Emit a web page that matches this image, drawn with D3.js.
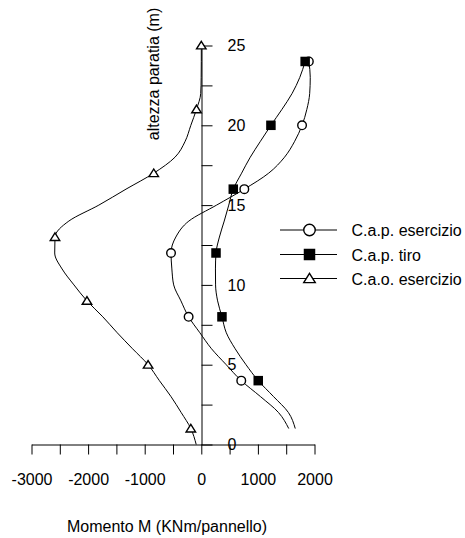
<!DOCTYPE html>
<html>
<head>
<meta charset="utf-8">
<script src="https://cdn.jsdelivr.net/npm/d3@7"></script>
<style>
  html, body { margin: 0; padding: 0; background: #fff; }
  svg { display: block; font-family: "Liberation Sans", Arial, Helvetica, sans-serif; }
</style>
</head>
<body>
<svg id="chart" width="465" height="538"></svg>
<script>
// Heights along the wall (m) and bending moments (KNm/pannello)
const heightsCap = [24, 23, 22, 21, 20, 19, 18, 17, 16, 15, 14, 13, 12, 11, 10, 9, 8, 7, 6, 5, 4, 3, 2, 1];
const capEsercizio = [1900, 1925, 1915, 1865, 1780, 1650, 1470, 1190, 760, 270, -220, -450, -535, -520, -488, -360, -224, -25, 180, 440, 706, 1046, 1365, 1545];
const capTiro = [1835, 1740, 1605, 1425, 1230, 1045, 865, 712, 565, 485, 405, 320, 260, 250, 252, 288, 365, 442, 598, 790, 1006, 1277, 1540, 1660];

const heightsCao = [25, 24, 23, 22, 21, 20, 19, 18, 17, 16, 15, 14, 13, 12, 11, 10, 9, 8, 7, 6, 5, 4, 3, 2, 1, 0];
const caoEsercizio = [0, 0, -2, -10, -85, -185, -285, -465, -840, -1330, -1810, -2340, -2585, -2590, -2460, -2250, -2020, -1740, -1485, -1215, -940, -740, -535, -355, -185, -90];

// Heights where a marker is placed on each curve
const markerHeightsCap = [24, 20, 16, 12, 8, 4];
const markerHeightsCao = [25, 21, 17, 13, 9, 5, 1];

const seriesNames = ["C.a.p. esercizio", "C.a.p. tiro", "C.a.o. esercizio"];
const xTicks = [-3000, -2500, -2000, -1500, -1000, -500, 0, 500, 1000, 1500, 2000];
const yTicks = [0, 2.5, 5, 7.5, 10, 12.5, 15, 17.5, 20, 22.5, 25];

const xTitle = "Momento M (KNm/pannello)";
const yTitle = "altezza paratia (m)";

const svg = d3.select("#chart");
const FONT = 16;

const x = d3.scaleLinear().domain([-3000, 2000]).range([31.5, 314.5]);
const y = d3.scaleLinear().domain([0, 25]).range([444.5, 45.5]);

// Axes: horizontal axis on the zero-height line, vertical axis on the zero-moment line
const xAxis = d3.axisBottom(x)
  .tickValues(xTicks)
  .tickSize(10)
  .tickSizeOuter(0)
  .tickPadding(19)
  .tickFormat(d => (d % 1000 === 0 ? String(d) : ""));

const yAxis = d3.axisRight(y)
  .tickValues(yTicks)
  .tickSize(11)
  .tickSizeOuter(0)
  .tickPadding(15)
  .tickFormat(d => (d % 5 === 0 ? String(d) : ""));

const gx = svg.append("g").attr("transform", `translate(0,${y(0)})`).call(xAxis);
const gy = svg.append("g").attr("transform", `translate(${Math.round(x(0)) + 0.5},0)`).call(yAxis);

[gx, gy].forEach(g => {
  g.selectAll("path.domain").attr("stroke", "#000").attr("stroke-width", 1);
  g.selectAll(".tick line").attr("stroke", "#000").attr("stroke-width", 1);
  g.selectAll(".tick text")
    .attr("fill", "#000")
    .style("font-size", FONT + "px")
    .style("font-family", '"Liberation Sans", Arial, sans-serif');
});

// Axis titles
svg.append("text")
  .attr("x", 167)
  .attr("y", 531.5)
  .attr("text-anchor", "middle")
  .style("font-size", FONT + "px")
  .attr("fill", "#000")
  .text(xTitle);

svg.append("text")
  .attr("transform", "translate(158.5,74) rotate(-90)")
  .attr("text-anchor", "middle")
  .style("font-size", FONT + "px")
  .attr("fill", "#000")
  .text(yTitle);

// Build point lists for each series
const capEsPts = heightsCap.map((h, i) => ({ h, m: capEsercizio[i] }));
const capTiPts = heightsCap.map((h, i) => ({ h, m: capTiro[i] }));
const caoEsPts = heightsCao.map((h, i) => ({ h, m: caoEsercizio[i] }));

const line = d3.line()
  .x(d => x(d.m))
  .y(d => y(d.h))
  .curve(d3.curveMonotoneY);

const plot = svg.append("g");
[capEsPts, capTiPts, caoEsPts].forEach(pts => {
  plot.append("path")
    .datum(pts)
    .attr("d", line)
    .attr("fill", "none")
    .attr("stroke", "#000")
    .attr("stroke-width", 1);
});

// Marker shapes
function drawMarker(g, type, cx, cy, s) {
  if (type === "circle") {
    g.append("circle").attr("cx", cx).attr("cy", cy).attr("r", s / 2)
      .attr("fill", "#fff").attr("stroke", "#000").attr("stroke-width", 1.4);
  } else if (type === "square") {
    g.append("rect").attr("x", cx - s / 2).attr("y", cy - s / 2)
      .attr("width", s).attr("height", s).attr("fill", "#000");
  } else {
    const hh = s * 0.8;
    g.append("path")
      .attr("d", `M${cx},${cy - hh * 0.55}L${cx + s / 2},${cy + hh * 0.45}L${cx - s / 2},${cy + hh * 0.45}Z`)
      .attr("fill", "#fff").attr("stroke", "#000").attr("stroke-width", 1.4);
  }
}

const markerGroup = svg.append("g");
capEsPts.filter(d => markerHeightsCap.includes(d.h))
  .forEach(d => drawMarker(markerGroup, "circle", x(d.m), y(d.h), 8.6));
capTiPts.filter(d => markerHeightsCap.includes(d.h))
  .forEach(d => drawMarker(markerGroup, "square", x(d.m), y(d.h), 9.5));
caoEsPts.filter(d => markerHeightsCao.includes(d.h))
  .forEach(d => drawMarker(markerGroup, "triangle", x(d.m), y(d.h), 9.5));

// Legend
const legendTypes = ["circle", "square", "triangle"];
const legendY = [230, 254.5, 278.5];
const legend = svg.append("g");
seriesNames.forEach((name, i) => {
  const ly = legendY[i];
  legend.append("line")
    .attr("x1", 280).attr("x2", 337).attr("y1", ly).attr("y2", ly)
    .attr("stroke", "#000").attr("stroke-width", 1);
  drawMarker(legend, legendTypes[i], 309.5, ly, 11.5);
  legend.append("text")
    .attr("x", 351.5)
    .attr("y", ly + 6)
    .style("font-size", FONT + "px")
    .attr("fill", "#000")
    .text(name);
});
</script>
</body>
</html>
